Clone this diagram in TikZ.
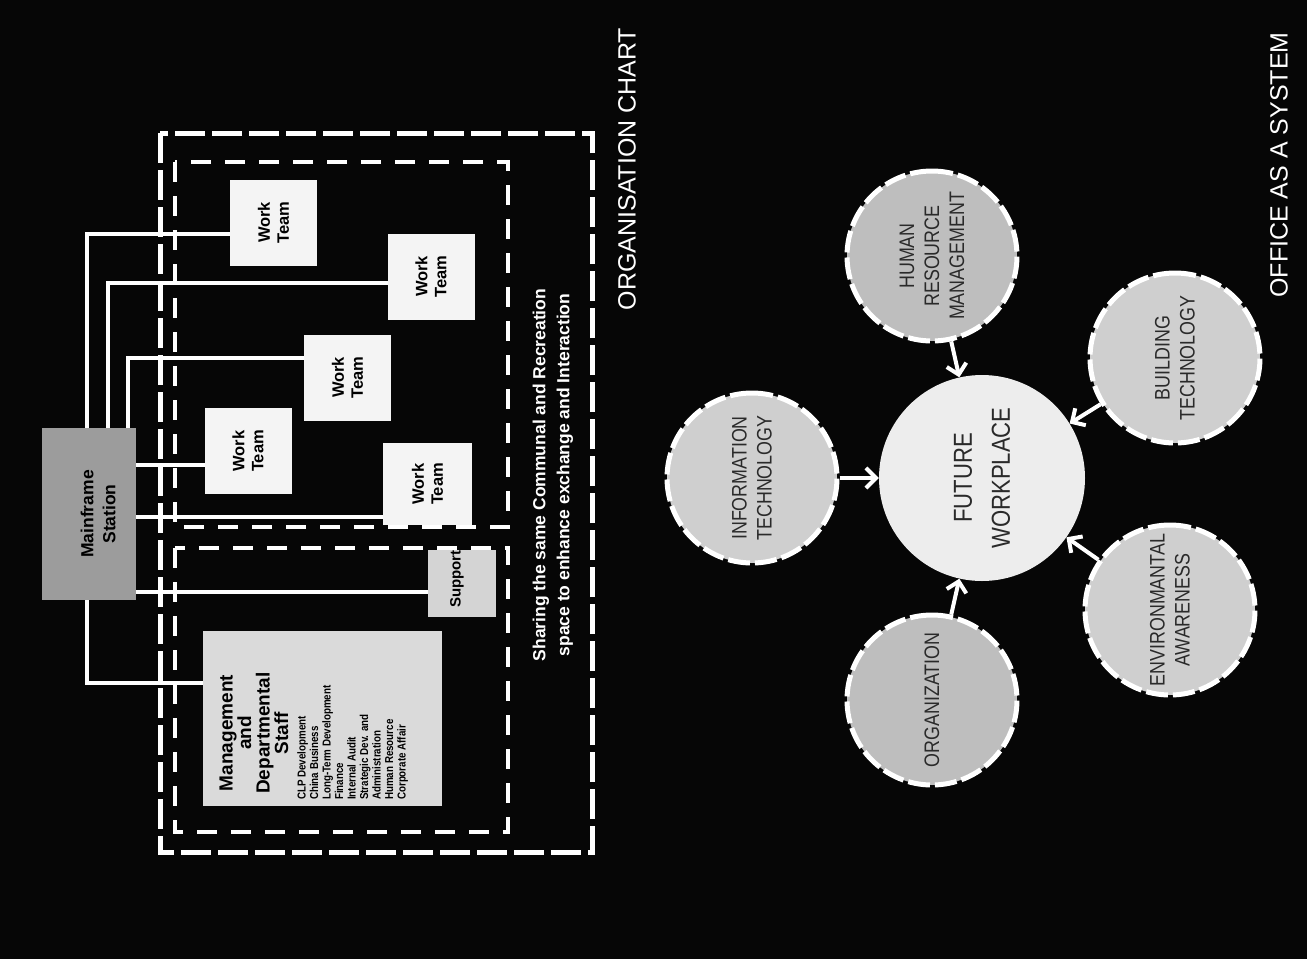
\documentclass[tikz,border=0pt]{standalone}
\usepackage{fontspec}
\setmainfont{Liberation Sans}
\newfontfamily\condfont[FakeStretch=0.85]{Liberation Sans}
\usetikzlibrary{arrows.meta,calc}
\definecolor{bg}{HTML}{060606}
\definecolor{mfgray}{HTML}{9C9C9C}
\definecolor{mgmt}{HTML}{DADADA}
\definecolor{wtwhite}{HTML}{F4F4F4}
\definecolor{supp}{HTML}{D4D4D4}
\definecolor{satA}{HTML}{CFCFCF}
\definecolor{satB}{HTML}{BEBEBE}
\definecolor{fwfill}{HTML}{EDEDED}
\definecolor{ink}{HTML}{2A2A2A}
\begin{document}
\begin{tikzpicture}[x=1pt,y=-1pt,
  orgbox/.style={rectangle, inner sep=0pt, outer sep=0pt},
  conn/.style={draw=white, line width=4.5pt},
  outerdash/.style={draw=white, line width=5pt, dash pattern=on 30pt off 7pt},
  innerdash/.style={draw=white, line width=4pt, dash pattern=on 20pt off 14pt},
  rtext/.style={rotate=90, align=center, inner sep=0pt, text=black},
  wtext/.style={rtext, font=\bfseries\fontsize{16.5}{19}\selectfont},
  wtbox/.style={orgbox, fill=wtwhite, minimum width=87pt, minimum height=86pt},
  sat/.style={circle, minimum size=170pt, fill=#1, draw=white, line width=5pt,
    dash pattern=on 22pt off 5pt, rotate=90, align=center, inner sep=0pt,
    font=\condfont\fontsize{21}{25}\selectfont, text=ink},
  arr/.style={draw=white, line width=4pt, -{Straight Barb[length=10pt,width=20pt]}},
  title/.style={rotate=90, text=white, font=\fontsize{25}{30}\selectfont, inner sep=0pt}]
\useasboundingbox (0,0) rectangle (1307,959);
\fill[bg] (0,0) rectangle (1307,959);

% dashed enclosures
\draw[outerdash] (160,133) rectangle (592,852);
\draw[innerdash] (175,162) rectangle (508,527);
\draw[innerdash] (175,548) rectangle (508,832);

% boxes
\node[orgbox, fill=mfgray, minimum width=94pt, minimum height=172pt] (mf) at (89,514) {};
\node[rtext, font=\bfseries\fontsize{17.5}{22}\selectfont] (mft) at (98,514) {Mainframe\\Station};

\node[wtbox] (wt1) at (273.5,222.5) {};
\node[wtext] at (wt1) {Work\\Team};
\node[wtbox] (wt2) at (431,276.5) {};
\node[wtext] at (wt2) {Work\\Team};
\node[wtbox] (wt3) at (347.5,377.5) {};
\node[wtext] at (wt3) {Work\\Team};
\node[wtbox] (wt4) at (248,451) {};
\node[wtext] at (wt4) {Work\\Team};
\node[wtbox, minimum width=89pt, minimum height=82pt] (wt5) at (427.5,484) {};
\node[wtext] at (wt5) {Work\\Team};

\node[orgbox, fill=supp, minimum width=68pt, minimum height=67pt] (sup) at (462,583.5) {};
\node[rtext, font=\bfseries\fontsize{15}{17}\selectfont] at (457,579) {Support};

\node[orgbox, fill=mgmt, minimum width=239pt, minimum height=175pt] (mg) at (322.5,718.5) {};
\node[rtext, font=\bfseries\fontsize{19}{18.5}\selectfont] at (254,733) {Management\\and\\Departmental\\Staff};
\node[rotate=90, anchor=north west, inner sep=0pt, align=left, text=black,
  font=\condfont\bfseries\fontsize{11.5}{12.5}\selectfont] at (297,800)
  {CLP Development\\China Business\\Long-Term Development\\Finance\\Internal Audit\\Strategic Dev. and\\Administration\\Human Resource\\Corporate Affair};

% connectors
\coordinate (t1) at ($(wt1.west)+(0,11.5)$);
\coordinate (t2) at ($(wt2.west)+(0,6.5)$);
\coordinate (t3) at ($(wt3.west)+(0,-19.5)$);
\coordinate (t4) at ($(wt4.west)+(0,14)$);
\coordinate (t5) at ($(wt5.west)+(0,33)$);
\coordinate (t6) at ($(sup.west)+(0,8.5)$);
\coordinate (t7) at ($(mg.west)+(0,-35.5)$);
\draw[conn] ($(mf.north west)!0.48!(mf.north east)$) |- (t1);
\draw[conn] ($(mf.north west)!0.70!(mf.north east)$) |- (t2);
\draw[conn] ($(mf.north west)!0.915!(mf.north east)$) |- (t3);
\draw[conn] (mf.east |- t4) -- (t4);
\draw[conn] (mf.east |- t5) -- (t5);
\draw[conn] (mf.east |- t6) -- (t6);
\draw[conn] ($(mf.south west)!0.48!(mf.south east)$) |- (t7);

\node[rotate=90, text=white, align=center, inner sep=0pt,
  font=\bfseries\fontsize{17.5}{24}\selectfont] (cap) at (553,475)
  {Sharing the same Communal and Recreation\\space to enhance exchange and Interaction};

\node[title] (t-org) at (627,169) {ORGANISATION CHART};

% office as a system
\node[circle, fill=fwfill, minimum size=206pt, rotate=90, align=center, inner sep=0pt,
  font=\condfont\fontsize{26}{38}\selectfont, text=ink] (fw) at (982,478) {FUTURE\\WORKPLACE};
\node[sat=satA] (it) at (752,478) {INFORMATION\\TECHNOLOGY};
\node[sat=satB] (hrm) at (932,256) {HUMAN\\RESOURCE\\MANAGEMENT};
\node[sat=satA] (bt) at (1175,358) {BUILDING\\TECHNOLOGY};
\node[sat=satA] (ea) at (1170,610) {ENVIRONMANTAL\\AWARENESS};
\node[sat=satB] (org) at (932,700) {ORGANIZATION};

\draw[arr] (it) -- (fw);
\draw[arr] (hrm) -- (fw);
\draw[arr] (bt) -- (fw);
\draw[arr] (ea) -- (fw);
\draw[arr] (org) -- (fw);

\node[title] (t-off) at (1279,165) {OFFICE AS A SYSTEM};
\end{tikzpicture}
\end{document}
